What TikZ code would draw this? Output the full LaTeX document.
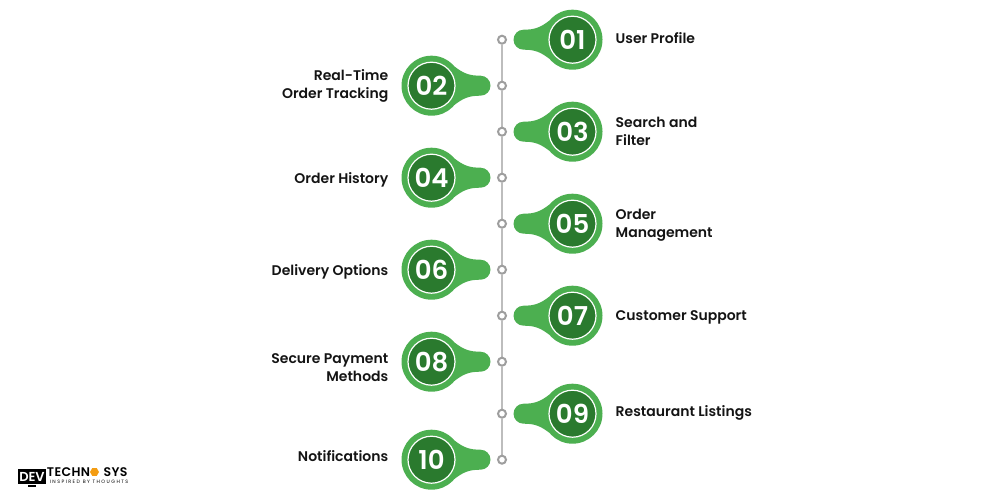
\documentclass[tikz,border=0pt]{standalone}
\usepackage{fontspec}
\setmainfont{Poppins}[BoldFont={Poppins SemiBold}]
\usepackage{tikz}
\usetikzlibrary{positioning,backgrounds,shapes.geometric}

\definecolor{tailgreen}{HTML}{4CAF50}
\definecolor{darkgreen}{HTML}{2A7A2E}
\definecolor{spinegray}{HTML}{BDBDBD}
\definecolor{pingray}{HTML}{9E9E9E}
\definecolor{logoorange}{HTML}{F39C12}

\tikzset{
  pin/.style={circle, draw=pingray, fill=white, line width=2pt, minimum size=8pt, inner sep=0pt},
  badge/.style={circle, draw=white, fill=darkgreen, line width=1.2pt, minimum size=47pt, inner sep=0pt,
    text=white, font=\bfseries\fontsize{26}{26}\selectfont},
  itemtext/.style={inner sep=0pt, font=\bfseries\fontsize{14}{18}\selectfont, text=black!92},
  spine/.style={draw=spinegray, line width=2pt},
  tail/.pic={
    \fill[tailgreen] (0,30) arc (90:450:30pt)
      (-22,20) .. controls (-32,12) and (-38,10) .. (-49,10)
      arc (90:270:10pt)
      .. controls (-38,-10) and (-32,-12) .. (-22,-20) -- cycle;
  }
}

\begin{document}
\begin{tikzpicture}[x=1pt,y=1pt,node distance=46pt,on grid]
   \useasboundingbox (0,0) rectangle (1000,-500);

   \node[pin] (p01) at (502,-39.7) {};
   \node[pin] (p02) [below=of p01] {};
   \node[pin] (p03) [below=of p02] {};
   \node[pin] (p04) [below=of p03] {};
   \node[pin] (p05) [below=of p04] {};
   \node[pin] (p06) [below=of p05] {};
   \node[pin] (p07) [below=of p06] {};
   \node[pin] (p08) [below=of p07] {};
   \node[pin] (p09) [below=52pt of p08] {};
   \node[pin] (p10) [below=of p09] {};

   \node[badge] (b01) [right=70.5pt of p01] {01};
   \node[badge] (b02) [left=70.5pt of p02] {02};
   \node[badge] (b03) [right=70.5pt of p03] {03};
   \node[badge] (b04) [left=70.5pt of p04] {04};
   \node[badge] (b05) [right=70.5pt of p05] {05};
   \node[badge] (b06) [left=70.5pt of p06] {06};
   \node[badge] (b07) [right=70.5pt of p07] {07};
   \node[badge] (b08) [left=70.5pt of p08] {08};
   \node[badge] (b09) [right=70.5pt of p09] {09};
   \node[badge] (b10) [left=70.5pt of p10] {10};

   \node[itemtext, align=left] (t01) [right=43pt of b01, anchor=west, yshift=2pt] {User Profile};
   \node[itemtext, align=right] (t02) [left=43pt of b02, anchor=east] {Real-Time\\Order Tracking};
   \node[itemtext, align=left] (t03) [right=43pt of b03, anchor=west] {Search and\\Filter};
   \node[itemtext, align=right] (t04) [left=43pt of b04, anchor=east, yshift=-2pt] {Order History};
   \node[itemtext, align=left] (t05) [right=43pt of b05, anchor=west, yshift=-2pt] {Order\\Management};
   \node[itemtext, align=right] (t06) [left=43pt of b06, anchor=east, yshift=-2pt] {Delivery Options};
   \node[itemtext, align=left] (t07) [right=43pt of b07, anchor=west, yshift=-2pt] {Customer Support};
   \node[itemtext, align=right] (t08) [left=43pt of b08, anchor=east, yshift=-6pt] {Secure Payment\\Methods};
   \node[itemtext, align=left] (t09) [right=43pt of b09, anchor=west, yshift=1pt] {Restaurant Listings};
   \node[itemtext, align=right] (t10) [left=43pt of b10, anchor=east, yshift=4pt] {Notifications};

   % logo
   \node[fill=black, text=white, minimum width=28pt, minimum height=15pt, inner sep=0pt,
     font=\bfseries\fontsize{13}{13}\selectfont] (logoscreen) at (32,-476.5) {DEV};
   \node[fill=black, minimum width=8pt, minimum height=2pt, inner sep=0pt] (logostand) [below=9.5pt of logoscreen] {};
   \node[text=black, inner sep=0pt, font=\bfseries\fontsize{12.5}{12.5}\selectfont\addfontfeature{LetterSpace=3}] (logotech) at (68.5,-472) {TECHN};
   \node[regular polygon, regular polygon sides=6, fill=logoorange, minimum size=9pt, inner sep=0pt] (logohex) at (94.5,-472) {};
   \node[text=black, inner sep=0pt, font=\bfseries\fontsize{12.5}{12.5}\selectfont\addfontfeature{LetterSpace=3}] (logosys) at (115.5,-472) {SYS};
   \node[text=black, inner sep=0pt, font=\fontsize{4.8}{5}\selectfont\addfontfeature{LetterSpace=30}] (logotag) at (89,-482) {INSPIRED BY THOUGHTS};

   \begin{scope}[on background layer]
   \path[spine]
    (p01) edge (p02)
    (p02) edge (p03)
    (p03) edge (p04)
    (p04) edge (p05)
    (p05) edge (p06)
    (p06) edge (p07)
    (p07) edge (p08)
    (p08) edge (p09)
    (p09) edge (p10);
   \pic at (b01) {tail};
   \pic[xscale=-1] at (b02) {tail};
   \pic at (b03) {tail};
   \pic[xscale=-1] at (b04) {tail};
   \pic at (b05) {tail};
   \pic[xscale=-1] at (b06) {tail};
   \pic at (b07) {tail};
   \pic[xscale=-1] at (b08) {tail};
   \pic at (b09) {tail};
   \pic[xscale=-1] at (b10) {tail};
   \end{scope}
\end{tikzpicture}
\end{document}
